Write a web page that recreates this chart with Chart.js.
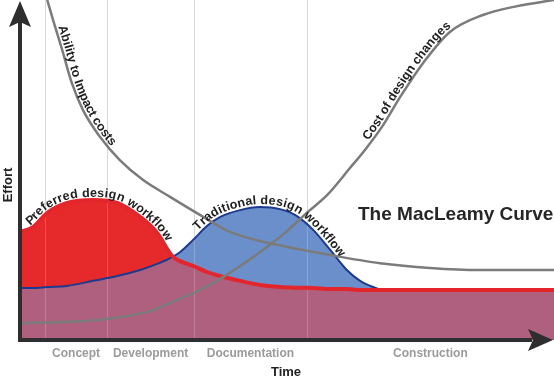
<!DOCTYPE html>
<html>
<head>
<meta charset="utf-8">
<script src="https://cdn.jsdelivr.net/npm/chart.js@4"></script>
<style>
  html, body { margin: 0; padding: 0; background: #fff; }
  canvas { display: block; }
</style>
</head>
<body>
<canvas id="macleamyChart" width="554" height="381"></canvas>
<script>
// time = % of project duration, effort = % of chart height
const phaseLabels = ["Concept", "Development", "Documentation", "Construction"];
const phaseBounds = [4.7, 16.3, 32.6, 53.7, 100];

const workflowTime = [0, 2.4, 5.1, 8.8, 13.7, 18.2, 22.5, 25.7, 28.5, 30.0, 32.4, 35.0, 37.5, 41.2, 44.9, 48.7, 51.5, 54.9, 58.1, 61.2, 63.7, 66.1, 68.0, 74.9, 86.1, 100];
const preferredEffort = [31.8, 33.2, 37.4, 40.3, 41.2, 40.3, 36.2, 31.5, 24.7, 23.2, 21.8, 20.0, 18.8, 17.4, 16.2, 15.6, 15.4, 15.3, 15.0, 15.0, 14.7, 14.7, 14.7, 14.7, 14.7, 14.7];
const traditionalEffort = [15.3, 15.3, 15.6, 15.9, 17.4, 18.8, 20.6, 22.4, 24.4, 25.9, 29.4, 33.5, 36.2, 38.2, 39.1, 38.5, 36.8, 32.4, 26.5, 20.6, 17.4, 15.6, 14.7, 14.7, 14.7, 14.7];

const abilityTime = [5.1, 6.2, 7.9, 9.7, 11.8, 15.0, 18.7, 23.0, 28.1, 33.7, 39.3, 48.1, 58.1, 67.4, 76.8, 86.1, 100];
const abilityEffort = [100, 94.1, 85.3, 75.6, 67.6, 59.7, 52.9, 47.1, 42.1, 36.8, 31.8, 28.0, 25.0, 22.6, 21.2, 20.6, 20.6];

const costTime = [0, 7.5, 16.3, 24.3, 29.4, 33.7, 38.0, 45.5, 49.6, 53.7, 57.5, 61.8, 64.6, 68.0, 71.2, 75.5, 80.5, 86.7, 93.1, 100];
const costEffort = [5.0, 5.3, 6.2, 8.5, 11.8, 14.7, 18.5, 26.5, 31.5, 37.4, 42.6, 50.6, 55.9, 63.2, 71.5, 81.5, 90.6, 95.6, 98.2, 100];

// text written along each curve: dataset index, where it starts (time), lift above line
const curveLabels = [
  { ds: 0, text: "Preferred design workflow", start: 2.2, lift: 3 },
  { ds: 1, text: "Traditional design workflow", start: 33.6, lift: 3 },
  { ds: 2, text: "Ability to Impact costs", start: 6.6, lift: 3 },
  { ds: 3, text: "Cost of design changes", start: 65.5, lift: 3 }
];

const FONT = '"Liberation Sans", Arial, Helvetica, sans-serif';

function toPoints(xs, ys) {
  return xs.map((x, i) => ({ x: x, y: ys[i] }));
}

// sample the drawn bezier path of a line dataset
function samplePath(points) {
  const out = [];
  for (let i = 0; i < points.length - 1; i++) {
    const a = points[i], b = points[i + 1];
    const c1x = a.cp2x ?? a.x, c1y = a.cp2y ?? a.y;
    const c2x = b.cp1x ?? b.x, c2y = b.cp1y ?? b.y;
    for (let k = 0; k < 16; k++) {
      const t = k / 16, u = 1 - t;
      out.push({
        x: u * u * u * a.x + 3 * u * u * t * c1x + 3 * u * t * t * c2x + t * t * t * b.x,
        y: u * u * u * a.y + 3 * u * u * t * c1y + 3 * u * t * t * c2y + t * t * t * b.y
      });
    }
  }
  const last = points[points.length - 1];
  out.push({ x: last.x, y: last.y });
  return out;
}

function pointAt(path, cum, s) {
  let i = 1;
  while (i < cum.length - 1 && cum[i] < s) i++;
  const p0 = path[i - 1], p1 = path[i];
  const f = (s - cum[i - 1]) / ((cum[i] - cum[i - 1]) || 1);
  return { x: p0.x + (p1.x - p0.x) * f, y: p0.y + (p1.y - p0.y) * f };
}

function textOnPath(ctx, path, text, startPx, lift) {
  const cum = [0];
  for (let i = 1; i < path.length; i++) {
    cum.push(cum[i - 1] + Math.hypot(path[i].x - path[i - 1].x, path[i].y - path[i - 1].y));
  }
  let s = 0;
  for (let i = 0; i < path.length; i++) {
    if (path[i].x >= startPx) { s = cum[i]; break; }
  }
  for (const ch of text) {
    const w = ctx.measureText(ch).width;
    const mid = s + w / 2;
    const p = pointAt(path, cum, mid);
    const pa = pointAt(path, cum, mid - 3);
    const pb = pointAt(path, cum, mid + 3);
    ctx.save();
    ctx.translate(p.x, p.y);
    ctx.rotate(Math.atan2(pb.y - pa.y, pb.x - pa.x));
    ctx.fillText(ch, 0, -lift);
    ctx.restore();
    s += w;
  }
}

const macleamyDecor = {
  id: 'macleamyDecor',
  beforeDraw(chart) {
    const { ctx, chartArea, scales } = chart;
    ctx.save();
    ctx.strokeStyle = '#cfcfcf';
    ctx.lineWidth = 1;
    phaseBounds.slice(0, -1).forEach(b => {
      const x = Math.round(scales.x.getPixelForValue(b)) + 0.5;
      ctx.beginPath();
      ctx.moveTo(x, chartArea.top);
      ctx.lineTo(x, chartArea.bottom);
      ctx.stroke();
    });
    ctx.restore();
  },
  beforeDatasetsDraw(chart) {
    // faint grid lines seen through the filled areas
    const { ctx, chartArea, scales } = chart;
    ctx.save();
    ctx.strokeStyle = 'rgba(255,255,255,0.2)';
    ctx.lineWidth = 1;
    phaseBounds.slice(0, -1).forEach(b => {
      const x = Math.round(scales.x.getPixelForValue(b)) + 0.5;
      ctx.beginPath();
      ctx.moveTo(x, chartArea.top);
      ctx.lineTo(x, chartArea.bottom);
      ctx.stroke();
    });
    ctx.restore();
  },
  afterDatasetsDraw(chart) {
    const { ctx, scales } = chart;
    ctx.save();
    ctx.font = 'bold 12.5px ' + FONT;
    ctx.fillStyle = '#1e1e1e';
    ctx.textAlign = 'center';
    ctx.textBaseline = 'alphabetic';
    curveLabels.forEach(lbl => {
      const meta = chart.getDatasetMeta(lbl.ds);
      meta.dataset.updateControlPoints(chart.chartArea, 'x');
      const path = samplePath(meta.data);
      textOnPath(ctx, path, lbl.text, scales.x.getPixelForValue(lbl.start), lbl.lift);
    });
    ctx.restore();
  },
  afterDraw(chart) {
    const { ctx, chartArea, scales } = chart;
    const left = chartArea.left, bottom = chartArea.bottom;
    ctx.save();

    // axes with arrow heads
    ctx.strokeStyle = '#2e2e2e';
    ctx.fillStyle = '#2e2e2e';
    ctx.lineWidth = 4;
    ctx.beginPath();
    ctx.moveTo(left, bottom + 2);
    ctx.lineTo(left, 22);
    ctx.moveTo(left - 2, bottom);
    ctx.lineTo(532, bottom);
    ctx.stroke();
    ctx.beginPath();
    ctx.moveTo(left, 1);
    ctx.lineTo(left - 11, 27);
    ctx.lineTo(left, 22);
    ctx.lineTo(left + 11, 27);
    ctx.closePath();
    ctx.fill();
    ctx.beginPath();
    ctx.moveTo(553, bottom);
    ctx.lineTo(528, bottom - 11);
    ctx.lineTo(533, bottom);
    ctx.lineTo(528, bottom + 11);
    ctx.closePath();
    ctx.fill();

    // phase labels under the time axis
    ctx.font = 'bold 12px ' + FONT;
    ctx.fillStyle = '#9b9b9b';
    ctx.textAlign = 'center';
    ctx.textBaseline = 'middle';
    phaseLabels.forEach((name, i) => {
      const mid = (phaseBounds[i] + phaseBounds[i + 1]) / 2;
      ctx.fillText(name, scales.x.getPixelForValue(mid), bottom + 14);
    });

    // axis titles
    ctx.font = 'bold 13px ' + FONT;
    ctx.fillStyle = '#222';
    ctx.fillText('Time', 286, 372);
    ctx.save();
    ctx.translate(8, 185);
    ctx.rotate(-Math.PI / 2);
    ctx.fillText('Effort', 0, 0);
    ctx.restore();

    // chart title
    ctx.font = 'bold 19px ' + FONT;
    ctx.fillStyle = '#262626';
    ctx.textAlign = 'left';
    ctx.textBaseline = 'alphabetic';
    ctx.fillText('The MacLeamy Curve', 358, 220);

    ctx.restore();
  }
};

const ctx = document.getElementById('macleamyChart').getContext('2d');

new Chart(ctx, {
  type: 'line',
  data: {
    datasets: [
      {
        label: 'Preferred design workflow',
        data: toPoints(workflowTime, preferredEffort),
        borderColor: '#e3262b',
        borderWidth: 4,
        fill: { target: 1, above: '#e6292b', below: '#6a8fcb' },
        order: 1
      },
      {
        label: 'Traditional design workflow',
        data: toPoints(workflowTime, traditionalEffort),
        borderColor: '#1d3a8f',
        borderWidth: 2,
        fill: { target: 'origin', above: '#b0607f', below: '#b0607f' },
        order: 2
      },
      {
        label: 'Ability to impact costs',
        data: toPoints(abilityTime, abilityEffort),
        borderColor: '#7b7b7b',
        borderWidth: 2.5,
        fill: false,
        order: 0
      },
      {
        label: 'Cost of design changes',
        data: toPoints(costTime, costEffort),
        borderColor: '#7b7b7b',
        borderWidth: 2.5,
        fill: false,
        order: 0
      }
    ]
  },
  options: {
    responsive: false,
    animation: false,
    layout: { padding: { left: 20, right: 0, top: 0, bottom: 41 } },
    elements: {
      point: { radius: 0 },
      line: { cubicInterpolationMode: 'monotone' }
    },
    scales: {
      x: { type: 'linear', min: 0, max: 100, display: false },
      y: { min: 0, max: 100, display: false }
    },
    plugins: {
      legend: { display: false },
      tooltip: { enabled: false },
      filler: { drawTime: 'beforeDatasetsDraw' }
    }
  },
  plugins: [macleamyDecor]
});
</script>
</body>
</html>
